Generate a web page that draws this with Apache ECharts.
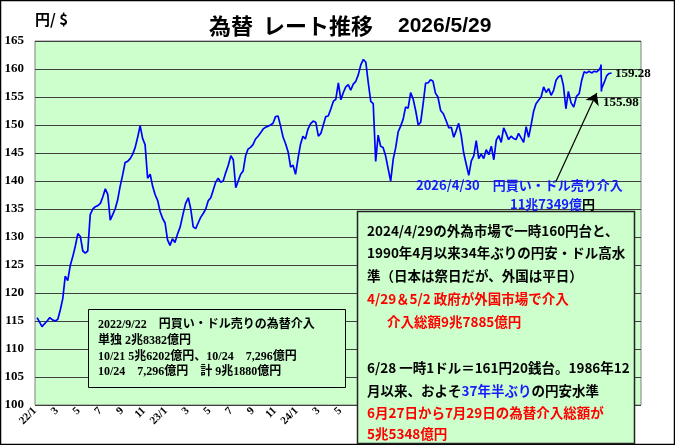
<!DOCTYPE html>
<html><head><meta charset="utf-8">
<script src="https://cdn.jsdelivr.net/npm/echarts@6/dist/echarts.min.js"></script>
<style>html,body{margin:0;padding:0;background:#fff}#c{width:675px;height:445px}</style>
</head><body><div id="c"></div>
<script>
// Weekly closes (Fridays) starting 2022-01-07
const weekStart = '2022-01-07';
const fx2022 = [115.6,114.8,114.0,114.5,115.0,115.6,115.2,115.0,115.3,117.0,119.0,123.0,122.2,124.9,126.5,128.4,130.6,130.1,127.5,127.1,127.5,134.0,135.0,135.4,135.6,136.0,137.2,138.6,137.6,133.0,134.0,135.0,136.6,139.0,141.0,143.3,143.5,144.0,144.8,146.0,147.8,149.9,147.6,146.5,140.5,141.2,139.0,137.5,136.5,134.5,133.3,132.5];
const fx2023 = [129.5,128.5,129.7,129.0,130.5,131.8,134.0,136.0,137.0,135.0,131.8,131.5,132.5,133.5,134.2,135.0,136.5,137.0,138.4,139.8,140.5,139.8,140.0,141.5,142.8,144.5,143.8,138.8,140.0,141.2,141.8,144.5,145.7,146.0,146.5,147.5,148.0,148.6,149.3,149.6,149.8,150.0,150.3,151.5,151.6,149.8,147.8,146.6,145.2,142.5,142.8,141.2];
const fx2024 = [144.0,146.5,148.0,147.5,149.2,150.2,150.7,150.5,148.0,148.5,150.0,151.5,151.6,152.8,154.2,154.6,157.5,154.5,155.8,156.8,157.2,156.2,157.3,157.8,159.0,160.8,161.7,161.2,157.5,154.2,153.8,143.5,148.2,146.2,146.0,144.5,142.2,140.0,143.9,146.0,148.8,149.8,151.0,153.2,153.0,155.8,154.6,152.5,150.0,150.5,153.8,157.5];
const fx2025 = [157.5,158.1,157.8,155.7,155.0,152.6,152.0,150.8,149.5,149.6,147.8,149.0,150.3,148.2,145.0,143.0,141.0,143.6,144.5,147.2,144.0,144.8,144.0,145.6,144.7,146.2,143.8,147.3,148.1,146.9,149.5,148.5,147.4,148.0,147.6,147.4,148.5,147.7,146.9,149.7,147.8,150.0,152.4,153.8,154.4,155.0,156.8,155.8,156.5,155.3,156.2,158.0];
const fx2026 = [158.6,158.9,157.0,152.9,156.0,154.0,153.2,155.1,155.6,158.0,159.5,159.3,159.6,159.3,159.6,159.5,159.9];
// last weeks (daily around the 2026/4/30 intervention)
const tailDates = ['2026-04-28','2026-04-29','2026-04-30','2026-05-01','2026-05-08','2026-05-15','2026-05-22','2026-05-29'];
const tailValues = [160.3,160.8,155.98,156.6,157.6,158.8,159.2,159.28];

const xTickLabels = ['22/1','3','5','7','9','11','23/1','3','5','7','9','11','24/1','3','5'];
const yMin = 100, yMax = 165, yStep = 5;
const xMaxMonths = 55.6;           // axis end (months after 2022/1)
const lowDate = '2026-04-30', lowValue = 155.98;
const lastDate = '2026-05-29', lastValue = 159.28;
const arrowFrom = ['2025-12-25', 139.8];
const arrowTo = ['2026-04-17', 155.7];

function toMonths(s){
  const p = s.split('-').map(Number);
  const dim = new Date(Date.UTC(p[0], p[1], 0)).getUTCDate();
  return (p[0]-2022)*12 + (p[1]-1) + (p[2]-1)/dim;
}
function iso(d){ return d.toISOString().slice(0,10); }

const weekly = [].concat(fx2022, fx2023, fx2024, fx2025, fx2026);
const seriesData = [];
const d0 = new Date(weekStart + 'T00:00:00Z');
weekly.forEach((v,i)=>{
  const d = new Date(d0.getTime() + i*7*86400000);
  seriesData.push([toMonths(iso(d)), v]);
});
tailDates.forEach((s,i)=>seriesData.push([toMonths(s), tailValues[i]]));

const chart = echarts.init(document.getElementById('c'), null, {renderer:'canvas'});
const CJK = '"Noto Sans CJK JP", sans-serif';
const SERIFJ = '"Liberation Serif", "Noto Sans CJK JP", serif';

function txt(x, y, text, font, fill, extra){
  return Object.assign({type:'text', z:110, style:{x:x, y:y, text:text, font:font, fill:fill||'#000', verticalAlign:'middle', align:'left'}}, extra||{});
}
const bigFont = 'bold 13.5px ' + CJK;
const smallFont = 'bold 12px ' + SERIFJ;

const option = {
  animation:false,
  backgroundColor:'#fff',
  grid:{left:35, top:41, width:606, height:364, show:true, backgroundColor:'#ccffcc', borderColor:'#808080', borderWidth:1},
  xAxis:{type:'value', min:0, max:xMaxMonths, interval:2,
    axisLine:{show:false}, axisTick:{show:false}, splitLine:{show:false},
    axisLabel:{rotate:45, margin:4, color:'#000', fontFamily:'Liberation Serif', fontWeight:'bold', fontSize:11,
      showMaxLabel:false,
      formatter:function(v){ const k = Math.round(v/2); return (Math.abs(v-2*k)<1e-6 && xTickLabels[k]!==undefined) ? xTickLabels[k] : ''; }}},
  yAxis:{type:'value', min:yMin, max:yMax, interval:yStep,
    axisLine:{show:false}, axisTick:{show:false},
    splitLine:{show:true, lineStyle:{color:'#404040', width:1}},
    axisLabel:{margin:11, color:'#000', fontFamily:'Liberation Serif', fontWeight:'bold', fontSize:13}},
  series:[{
    type:'line', data:seriesData, showSymbol:false, symbol:'none',
    lineStyle:{color:'#0000ff', width:1.7}, z:5,
    markPoint:{silent:true, symbol:'circle', symbolSize:1, itemStyle:{color:'rgba(0,0,0,0)'},
      label:{show:true, position:'right', color:'#000', fontFamily:'Liberation Serif', fontWeight:'bold', fontSize:13},
      data:[
        {coord:[toMonths(lastDate), lastValue], value:lastValue.toFixed(2), label:{distance:3, offset:[0,1]}},
        {coord:[toMonths(lowDate), lowValue], value:lowValue.toFixed(2), label:{distance:1, offset:[0,11]}}
      ]},
    markLine:{silent:true, animation:false, symbol:['none','arrow'], symbolSize:11,
      lineStyle:{color:'#000', width:1.2, type:'solid'}, label:{show:false},
      data:[[{coord:[toMonths(arrowFrom[0]), arrowFrom[1]]},{coord:[toMonths(arrowTo[0]), arrowTo[1]]}]]}
  }],
  graphic:[
    {type:'rect', z:100, shape:{x:0.5, y:0.5, width:674, height:444}, style:{fill:'none', stroke:'#000', lineWidth:1.5}},
    txt(35, 19, '円/ $', 'bold 15px ' + CJK),
    txt(209, 26, '為替', 'bold 22px ' + CJK),
    txt(263, 26, 'レート推移', 'bold 22px ' + CJK),
    txt(398, 26, '2026/5/29', 'bold 21px "Liberation Sans", sans-serif'),
    // blue intervention note
    txt(416, 185, '2026/4/30　円買い・ドル売り介入', 'bold 13px ' + CJK, '#1a1aff'),
    {type:'text', z:110, style:{x:510, y:204, verticalAlign:'middle', text:'{b|11兆7349億}{k|円}', font:'bold 13px ' + CJK,
      rich:{b:{fill:'#1a1aff', font:'bold 13px ' + CJK}, k:{fill:'#000', font:'bold 13px ' + CJK}}}},
    // 2022 box
    {type:'rect', z:100, shape:{x:88.5, y:309.5, width:257, height:78}, style:{fill:'#ccffcc', stroke:'#000', lineWidth:1}},
    txt(98, 325, '2022/9/22　円買い・ドル売りの為替介入', smallFont),
    txt(98, 341, '単独 2兆8382億円', smallFont),
    txt(98, 357, '10/21 5兆6202億円、10/24　7,296億円', smallFont),
    txt(98, 372, '10/24　7,296億円　計 9兆1880億円', smallFont),
    // 2024 box
    {type:'rect', z:100, shape:{x:357.5, y:211.5, width:277, height:232}, style:{fill:'#ccffcc', stroke:'#222', lineWidth:1.5}},
    txt(367, 231, '2024/4/29の外為市場で一時160円台と、', bigFont),
    txt(367, 253, '1990年4月以来34年ぶりの円安・ドル高水', bigFont),
    txt(367, 276, '準（日本は祭日だが、外国は平日）', bigFont),
    txt(367, 299, '4/29＆5/2 政府が外国市場で介入', bigFont, '#ff0000'),
    txt(387, 322, '介入総額9兆7885億円', bigFont, '#ff0000'),
    txt(367, 368, '6/28 一時1ドル＝161円20銭台。1986年12', bigFont),
    {type:'text', z:110, style:{x:367, y:391, verticalAlign:'middle', font:bigFont,
      text:'{k|月以来、およそ}{b|37年半ぶり}{k|の円安水準}',
      rich:{k:{fill:'#000', font:bigFont}, b:{fill:'#1a1aff', font:bigFont}}}},
    txt(367, 413, '6月27日から7月29日の為替介入総額が', bigFont, '#ff0000'),
    txt(367, 434, '5兆5348億円', bigFont, '#ff0000')
  ]
};
chart.setOption(option);
</script></body></html>
